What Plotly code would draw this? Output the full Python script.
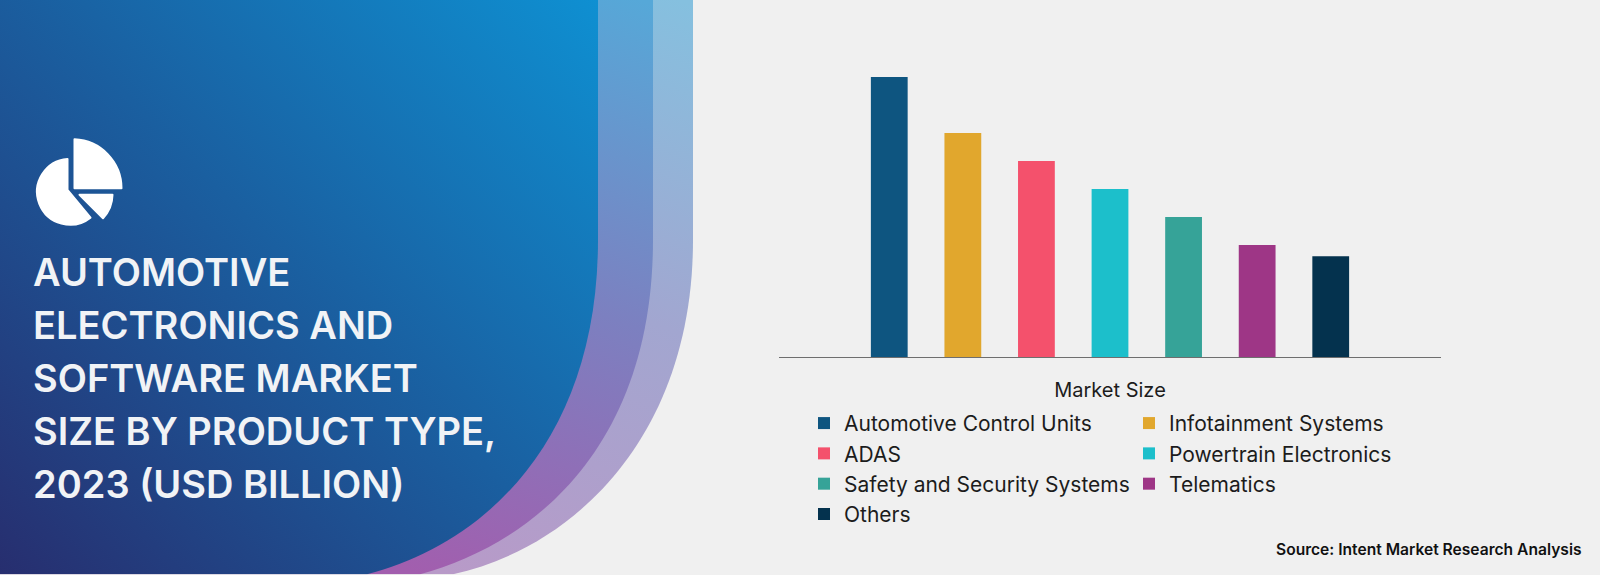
import base64
import plotly.graph_objects as go

W, H = 1600, 575
# plot area edges in page pixels
LEFT, RIGHT, TOP, BOTTOM = 779, 1441, 50, 357.5

series = ['Automotive Control Units', 'Infotainment Systems', 'ADAS', 'Powertrain Electronics',
          'Safety and Security Systems', 'Telematics', 'Others']
values = [25, 20, 17.5, 15, 12.5, 10, 9]
colors = ['#0e5580', '#e1a72d', '#f4516c', '#1cbfcb', '#36a398', '#9e3686', '#04324e']
title_lines = ['AUTOMOTIVE', 'ELECTRONICS AND', 'SOFTWARE MARKET', 'SIZE BY PRODUCT TYPE,', '2023 (USD BILLION)']
source_text = 'Source: Intent Market Research Analysis'


def px(x):
    return (x - LEFT) / (RIGHT - LEFT)


def py(y):
    return 1 - (y - TOP) / (BOTTOM - TOP)


# left panel: curved gradient bands and the pie icon, no gradient shapes in plotly so use an svg
panel = f'''<svg xmlns="http://www.w3.org/2000/svg" width="{W}" height="{H}" viewBox="0 0 {W} {H}">
<defs>
<linearGradient id="a" gradientUnits="userSpaceOnUse" x1="0" y1="575" x2="610" y2="-15">
<stop offset="0" stop-color="#272e6f"/><stop offset="0.5" stop-color="#1a5fa0"/><stop offset="1" stop-color="#0e92d4"/>
</linearGradient>
<linearGradient id="b" gradientUnits="userSpaceOnUse" x1="420" y1="575" x2="640" y2="0">
<stop offset="0" stop-color="#a25eae"/><stop offset="0.5" stop-color="#7c80c0"/><stop offset="1" stop-color="#56a8d8"/>
</linearGradient>
<linearGradient id="c" gradientUnits="userSpaceOnUse" x1="450" y1="575" x2="680" y2="0">
<stop offset="0" stop-color="#b89ac8"/><stop offset="0.5" stop-color="#a2a6d0"/><stop offset="1" stop-color="#85c0df"/>
</linearGradient>
</defs>
<path fill="url(#c)" d="M0,0 H693 V240 C693,440 570,550 453,575 H0 Z"/>
<path fill="url(#b)" d="M0,0 H653 V240 C653,448 532,545 420,575 H0 Z"/>
<path fill="url(#a)" d="M0,0 H598 V240 C598,440 485,545 367,575 H0 Z"/>
<g fill="#ffffff" stroke="#ffffff" stroke-width="2" stroke-linejoin="round">
<path d="M74.5,139.5 A49,49 0 0 1 121.5,188.5 H74.5 Z"/>
<path d="M67.5,159.1 V190 L90.5,217.9 A33,33 0 1 1 67.5,159.1 Z"/>
<path d="M79.5,195 H112.5 A35,35 0 0 1 103,218.5 Z"/>
</g>
</svg>'''
panel_uri = 'data:image/svg+xml;base64,' + base64.b64encode(panel.encode()).decode()

data = [go.Bar(x=['Market Size'], y=[v], name=s, marker=dict(color=c, line=dict(width=0)))
        for s, v, c in zip(series, values, colors)]

layout = go.Layout(
    width=W, height=H, margin=dict(l=LEFT, r=W - RIGHT, t=TOP, b=H - BOTTOM, pad=0),
    paper_bgcolor='#f0f0f0', plot_bgcolor='rgba(0,0,0,0)',
    barmode='group', bargap=0.222, bargroupgap=0.5, showlegend=True,
    font=dict(family='Inter', size=20, color='#1c1c1c'),
    xaxis=dict(showline=True, linecolor='#6e6e6e', linewidth=1, ticks='', ticklabelstandoff=15,
               tickfont=dict(size=20), showgrid=False, zeroline=False),
    yaxis=dict(visible=False, range=[0, 27.4]),
    legend=dict(orientation='h', x=px(804), y=py(403.5), xanchor='left', yanchor='top',
                entrywidth=280, entrywidthmode='pixels', traceorder='normal',
                bgcolor='rgba(0,0,0,0)', font=dict(size=21), itemclick=False),
    images=[dict(source=panel_uri, xref='paper', yref='paper', x=px(0), y=py(0),
                 sizex=W / (RIGHT - LEFT), sizey=H / (BOTTOM - TOP), sizing='stretch',
                 xanchor='left', yanchor='top', layer='below')],
    hovermode='closest',
)

fig = go.Figure(data=data, layout=layout)

for i, line in enumerate(title_lines):
    fig.add_annotation(text=line, xref='paper', yref='paper', x=px(31), y=py(272.5 + i * 53),
                       xanchor='left', yanchor='middle', showarrow=False,
                       font=dict(size=38, color='#f1f3f6', weight=600))
fig.add_annotation(text=source_text, xref='paper', yref='paper', x=px(1584), y=py(550),
                   xanchor='right', yanchor='middle', showarrow=False,
                   font=dict(size=15.6, color='#111111', weight=600))

fig.write_html('out.html', config={'displayModeBar': False},
               post_script="document.body.style.margin='0';document.body.style.background='#f0f0f0';")
